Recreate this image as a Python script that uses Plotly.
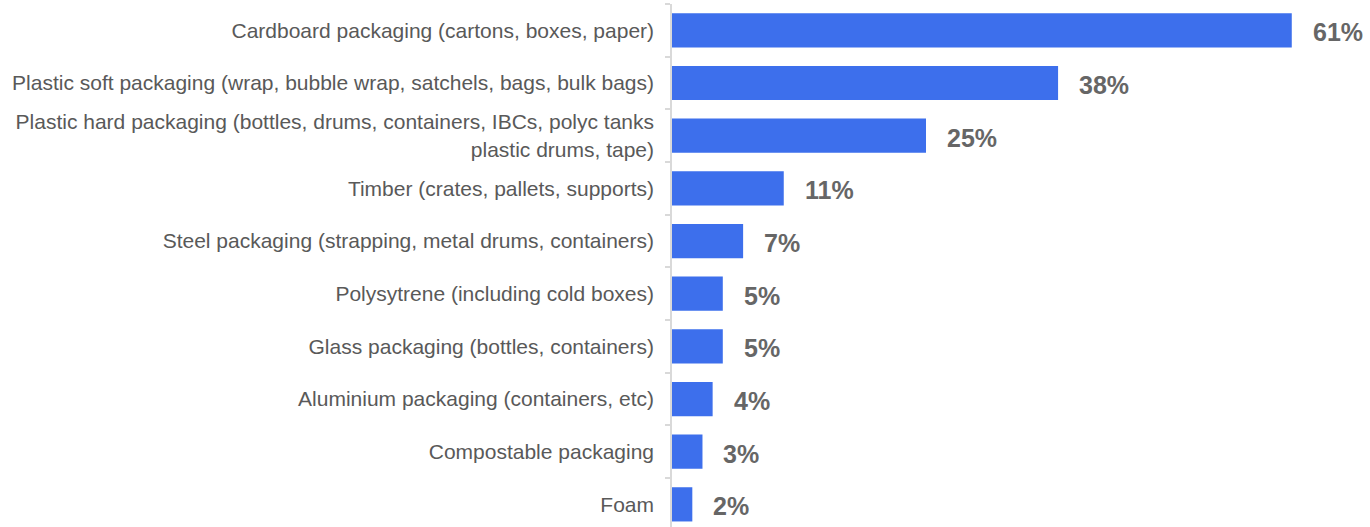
import plotly.graph_objects as go

# Packaging types and share of respondents (%)
categories = [
    "Cardboard packaging (cartons, boxes, paper)",
    "Plastic soft packaging (wrap, bubble wrap, satchels, bags, bulk bags)",
    "Plastic hard packaging (bottles, drums, containers, IBCs, polyc tanks<br>plastic drums, tape)",
    "Timber (crates, pallets, supports)",
    "Steel packaging (strapping, metal drums, containers)",
    "Polysytrene (including cold boxes)",
    "Glass packaging (bottles, containers)",
    "Aluminium packaging (containers, etc)",
    "Compostable packaging",
    "Foam",
]
values = [61, 38, 25, 11, 7, 5, 5, 4, 3, 2]
value_labels = [f"{v}%" for v in values]

BAR_COLOR = "#3d6fec"
AXIS_COLOR = "#d9d9d9"

fig = go.Figure(
    go.Bar(
        x=values,
        y=categories,
        orientation="h",
        marker=dict(color=BAR_COLOR, line=dict(width=0)),
        width=0.65,
        hoverinfo="skip",
    )
)

for cat, v, lab in zip(categories, values, value_labels):
    fig.add_annotation(
        x=v, y=cat, text=f"<b>{lab}</b>",
        xanchor="left", yanchor="middle", xshift=19, yshift=-2,
        showarrow=False,
        font=dict(family="Liberation Sans, Arial, sans-serif", size=25, color="#666666"),
    )

fig.update_layout(
    width=1370, height=527,
    margin=dict(l=672, r=0, t=4, b=0, autoexpand=False),
    paper_bgcolor="white", plot_bgcolor="white",
    showlegend=False,
    xaxis=dict(range=[0, 68.7], visible=False, fixedrange=True),
    yaxis=dict(
        type="category",
        range=[9.43, -0.5],
        showline=True, linecolor=AXIS_COLOR, linewidth=1.5,
        ticks="outside", tickson="boundaries", ticklen=5,
        tickcolor=AXIS_COLOR, tickwidth=1.5,
        ticklabelstandoff=12,
        showgrid=False, zeroline=False,
        tickfont=dict(family="Liberation Sans, Arial, sans-serif", size=21, color="#595959"),
        automargin=False,
    ),
)

fig.write_html("out.html")
